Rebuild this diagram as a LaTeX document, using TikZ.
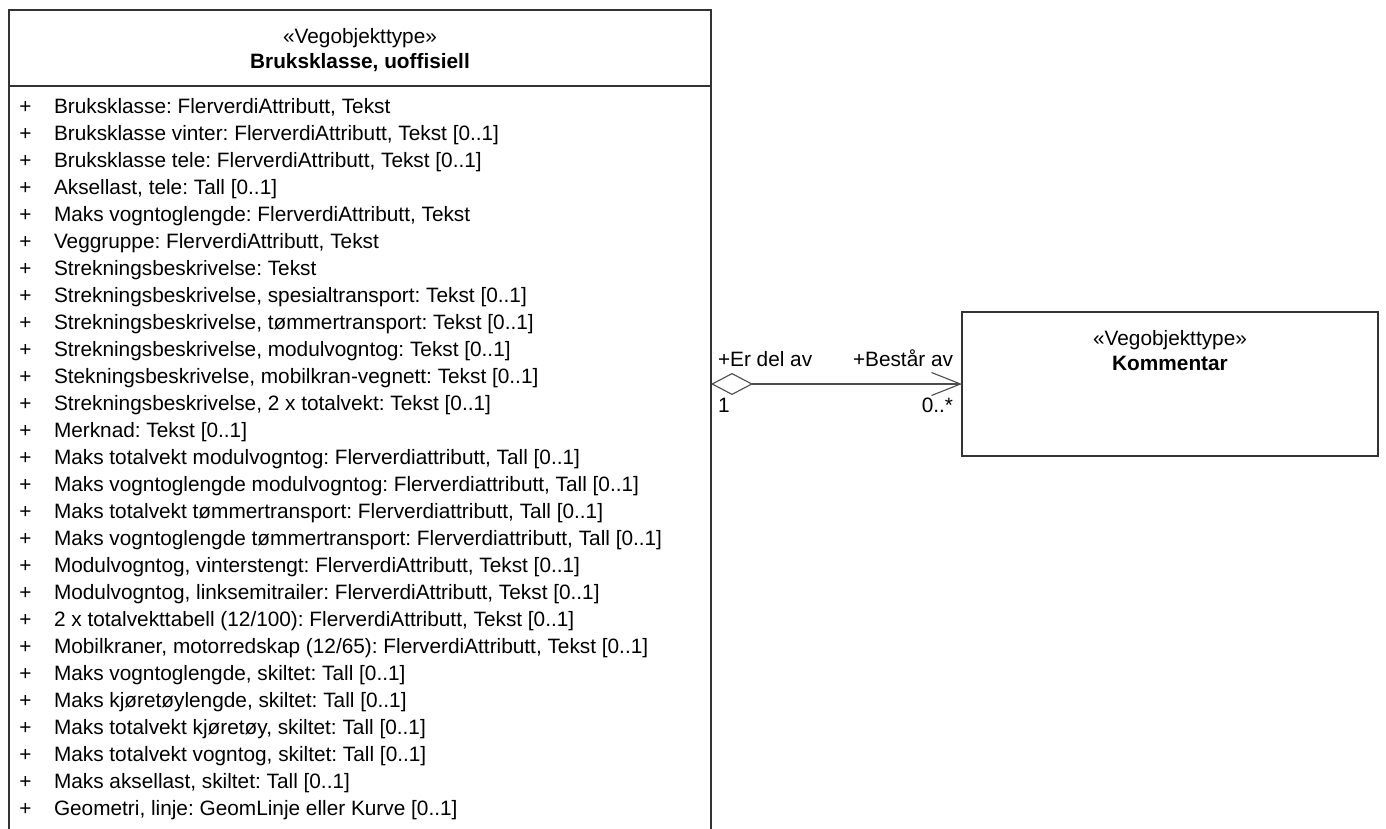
\documentclass[tikz,border=0pt]{standalone}
\usepackage{fontspec}
\setmainfont{Liberation Sans}
\usetikzlibrary{arrows.meta}
\frenchspacing
\begin{document}
\begin{tikzpicture}[x=1pt,y=-1pt,
  every node/.style={inner sep=0pt, outer sep=0pt, font=\fontsize{20.8}{27}\selectfont\frenchspacing},
  border/.style={draw=black!80, line width=1.1pt},
  classbox/.style={border, rectangle, fill=white},
  attr/.style={anchor=base west},
  assoc/.style={draw=black!70, line width=1.1pt,
    {Diamond[open, length=42pt, width=22pt, fill=white]}-{Straight Barb[length=29pt, width=23pt]}}
]
\useasboundingbox (0,0) rectangle (1386,829);
% left class (bottom cut off by page)
\node[draw=none, minimum width=702pt, minimum height=821pt, anchor=north west] (bk) at (9,10) {};
\draw[border] (bk.south west) -- (bk.north west) -- (bk.north east) -- (bk.south east);
\draw[border] (bk.west |- 0,86) coordinate (d1) -- (bk.east |- 0,86) coordinate (d2);
\node[anchor=base] (bkst) at (360,44) {«Vegobjekttype»};
\node[anchor=base, font=\fontsize{20.8}{27}\selectfont\bfseries] (bkname) at (360,69) {Bruksklasse, uoffisiell};
\foreach \t [count=\i] in {
  {Bruksklasse: FlerverdiAttributt, Tekst},
  {Bruksklasse vinter: FlerverdiAttributt, Tekst [0..1]},
  {Bruksklasse tele: FlerverdiAttributt, Tekst [0..1]},
  {Aksellast, tele: Tall [0..1]},
  {Maks vogntoglengde: FlerverdiAttributt, Tekst},
  {Veggruppe: FlerverdiAttributt, Tekst},
  {Strekningsbeskrivelse: Tekst},
  {Strekningsbeskrivelse, spesialtransport: Tekst [0..1]},
  {Strekningsbeskrivelse, tømmertransport: Tekst [0..1]},
  {Strekningsbeskrivelse, modulvogntog: Tekst [0..1]},
  {Stekningsbeskrivelse, mobilkran-vegnett: Tekst [0..1]},
  {Strekningsbeskrivelse, 2 x totalvekt: Tekst [0..1]},
  {Merknad: Tekst [0..1]},
  {Maks totalvekt modulvogntog: Flerverdiattributt, Tall [0..1]},
  {Maks vogntoglengde modulvogntog: Flerverdiattributt, Tall [0..1]},
  {Maks totalvekt tømmertransport: Flerverdiattributt, Tall [0..1]},
  {Maks vogntoglengde tømmertransport: Flerverdiattributt, Tall [0..1]},
  {Modulvogntog, vinterstengt: FlerverdiAttributt, Tekst [0..1]},
  {Modulvogntog, linksemitrailer: FlerverdiAttributt, Tekst [0..1]},
  {2 x totalvekttabell (12/100): FlerverdiAttributt, Tekst [0..1]},
  {Mobilkraner, motorredskap (12/65): FlerverdiAttributt, Tekst [0..1]},
  {Maks vogntoglengde, skiltet: Tall [0..1]},
  {Maks kjøretøylengde, skiltet: Tall [0..1]},
  {Maks totalvekt kjøretøy, skiltet: Tall [0..1]},
  {Maks totalvekt vogntog, skiltet: Tall [0..1]},
  {Maks aksellast, skiltet: Tall [0..1]},
  {Geometri, linje: GeomLinje eller Kurve [0..1]}} {
  \node[attr] (vis\i) at (19.5,{113.5+27*(\i-1)}) {+};
  \node[attr] (att\i) at (54,{113.5+27*(\i-1)}) {\t};
}
% right class
\node[classbox, minimum width=416pt, minimum height=144pt] (kom) at (1170,384) {};
\node[anchor=base] (komst) at (1170,345) {«Vegobjekttype»};
\node[anchor=base, font=\fontsize{20.8}{27}\selectfont\bfseries] (komname) at (1170,370) {Kommentar};
% association
\coordinate (ae) at (bk.east |- kom.west);
\draw[assoc] (ae) -- (kom.west);
\node[anchor=base west] (r1) at ([shift={(7,-18)}]ae) {+Er del av};
\node[anchor=base west] (m1) at ([shift={(7,28)}]ae) {1};
\node[anchor=base east] (r2) at ([shift={(-9,-18)}]kom.west) {+Består av};
\node[anchor=base east] (m2) at ([shift={(-9,28)}]kom.west) {0..*};
\end{tikzpicture}
\end{document}
